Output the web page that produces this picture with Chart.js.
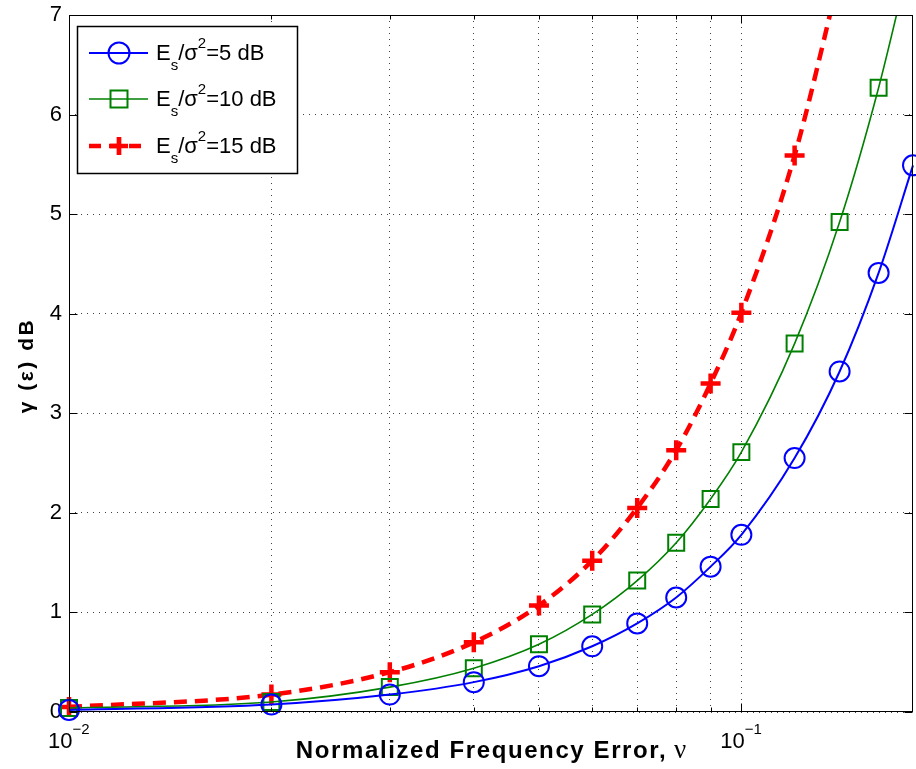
<!DOCTYPE html>
<html lang="en">
<head>
    <meta charset="UTF-8">
    <title>Frequency Error Penalty</title>
    <style>
        body {
            margin: 0;
            background-color: white;
        }
        #chart {
            display: block;
        }
    </style>
</head>
<body>
    <canvas id="chart" width="916" height="769"></canvas>

    <script src="https://cdn.jsdelivr.net/npm/chart.js"></script>
    <script>
        // normalized frequency error (x) and degradation in dB for each SNR
        const nu = [0.01, 0.02, 0.03, 0.04, 0.05, 0.06, 0.07, 0.08, 0.09, 0.1, 0.12, 0.14, 0.16, 0.18];
        const gamma5dB = [0.02, 0.075, 0.175, 0.30, 0.46, 0.66, 0.89, 1.15, 1.46, 1.78, 2.55, 3.42, 4.41, 5.49];
        const gamma10dB = [0.04, 0.10, 0.25, 0.44, 0.68, 0.98, 1.32, 1.70, 2.14, 2.61, 3.70, 4.92, 6.27, 7.7];
        const gamma15dB = [0.05, 0.175, 0.40, 0.70, 1.07, 1.52, 2.05, 2.63, 3.30, 4.01, 5.59, 7.4];

        const xGridTicks = [0.01, 0.02, 0.03, 0.04, 0.05, 0.06, 0.07, 0.08, 0.09, 0.1];
        const xDecades = [0.01, 0.1];
        const yTicks = [0, 1, 2, 3, 4, 5, 6, 7];

        const FONT = '"Liberation Sans", Arial, sans-serif';

        const series = [
            { label: '5', data: gamma5dB, color: '#0000ff', marker: 'circle' },
            { label: '10', data: gamma10dB, color: '#008000', marker: 'rect' },
            { label: '15', data: gamma15dB, color: '#ff0000', marker: 'cross' }
        ];

        const toPoints = vals => vals.map((v, i) => ({ x: nu[i], y: v }));

        // clip lines at the top of the axes but let edge markers overhang left/right
        const clipTop = { top: 0, left: false, right: false, bottom: false };

        const datasets = [
            {
                label: series[0].label,
                data: toPoints(gamma5dB),
                borderColor: '#0000ff',
                borderWidth: 2,
                pointStyle: 'circle',
                pointRadius: 10,
                pointBorderWidth: 2,
                pointBackgroundColor: 'rgba(0,0,0,0)',
                pointBorderColor: '#0000ff',
                cubicInterpolationMode: 'monotone',
                clip: clipTop
            },
            {
                label: series[1].label,
                data: toPoints(gamma10dB),
                borderColor: '#008000',
                borderWidth: 1.6,
                pointStyle: 'rect',
                pointRadius: 11.3,
                pointBorderWidth: 2,
                pointBackgroundColor: 'rgba(0,0,0,0)',
                pointBorderColor: '#008000',
                cubicInterpolationMode: 'monotone',
                clip: clipTop
            },
            {
                label: series[2].label,
                data: toPoints(gamma15dB),
                borderColor: '#ff0000',
                borderWidth: 4.5,
                borderDash: [13, 8],
                pointStyle: 'cross',
                pointRadius: 10,
                pointBorderWidth: 4.5,
                pointBorderColor: '#ff0000',
                cubicInterpolationMode: 'monotone',
                clip: clipTop
            }
        ];

        function drawMarker(ctx, style, x, y, color) {
            ctx.save();
            ctx.strokeStyle = color;
            ctx.setLineDash([]);
            ctx.beginPath();
            if (style === 'circle') {
                ctx.lineWidth = 2;
                ctx.arc(x, y, 10.5, 0, Math.PI * 2);
            } else if (style === 'rect') {
                ctx.lineWidth = 2;
                ctx.rect(x - 8.5, y - 8.5, 17, 17);
            } else {
                ctx.lineWidth = 4.7;
                ctx.moveTo(x - 9, y); ctx.lineTo(x + 9, y);
                ctx.moveTo(x, y - 9); ctx.lineTo(x, y + 9);
            }
            ctx.stroke();
            ctx.restore();
        }

        // "E_s/σ^2=NN dB" with sub/superscripts
        function drawLegendText(ctx, x, baseline, value) {
            const big = '22px ' + FONT;
            const small = '15px ' + FONT;
            const parts = [
                ['E', big, 0],
                ['s', small, 10],
                ['/σ', big, 0],
                ['2', small, -12],
                ['=' + value + ' dB', big, 0]
            ];
            ctx.fillStyle = '#000';
            ctx.textBaseline = 'alphabetic';
            ctx.textAlign = 'left';
            for (const [t, f, dy] of parts) {
                ctx.font = f;
                ctx.fillText(t, x, baseline + dy);
                x += ctx.measureText(t).width;
            }
        }

        const decorations = {
            id: 'decorations',
            afterDatasetsDraw(chart) {
                const { ctx, chartArea: a, scales: { x, y } } = chart;
                const L = Math.round(a.left) + 0.5;
                const R = Math.round(a.right) - 0.5;
                const T = Math.round(a.top) + 0.5;
                const B = Math.round(a.bottom) - 0.5;

                ctx.save();
                ctx.strokeStyle = '#000';
                ctx.lineWidth = 1;
                ctx.setLineDash([]);

                // axes box
                ctx.strokeRect(L, T, R - L, B - T);

                // inward tick marks
                ctx.beginPath();
                yTicks.forEach(v => {
                    const py = Math.round(y.getPixelForValue(v)) + 0.5;
                    ctx.moveTo(L, py); ctx.lineTo(L + 8, py);
                    ctx.moveTo(R, py); ctx.lineTo(R - 8, py);
                });
                xGridTicks.forEach(v => {
                    const px = Math.round(x.getPixelForValue(v)) + 0.5;
                    const len = xDecades.includes(v) ? 8 : 4;
                    ctx.moveTo(px, B); ctx.lineTo(px, B - len);
                    ctx.moveTo(px, T); ctx.lineTo(px, T + len);
                });
                ctx.stroke();

                // decade labels 10^-2, 10^-1
                ctx.fillStyle = '#000';
                ctx.textBaseline = 'alphabetic';
                ctx.textAlign = 'left';
                xDecades.forEach(v => {
                    const px = x.getPixelForValue(v);
                    const exp = Math.round(Math.log10(v));
                    ctx.font = '22px ' + FONT;
                    ctx.fillText('10', px - 21, 748);
                    const w = ctx.measureText('10').width;
                    ctx.font = '15px ' + FONT;
                    ctx.fillText('\u2212' + Math.abs(exp), px - 21 + w, 734);
                });

                // x axis title
                const cx = (a.left + a.right) / 2;
                ctx.font = 'bold 24px ' + FONT;
                ctx.letterSpacing = '1.6px';
                const main = 'Normalized Frequency Error,';
                const wMain = ctx.measureText(main).width;
                ctx.letterSpacing = '0px';
                ctx.font = '27px "Liberation Serif", serif';
                const wNu = ctx.measureText(' \u03bd').width;
                let tx = cx - (wMain + wNu) / 2;
                ctx.font = 'bold 24px ' + FONT;
                ctx.letterSpacing = '1.6px';
                ctx.fillText(main, tx, 758);
                ctx.letterSpacing = '0px';
                ctx.font = '27px "Liberation Serif", serif';
                ctx.fillText(' \u03bd', tx + wMain, 758);

                // y axis title
                ctx.save();
                ctx.translate(33, (a.top + a.bottom) / 2 + 2);
                ctx.rotate(-Math.PI / 2);
                ctx.textAlign = 'center';
                ctx.font = 'bold 21px ' + FONT;
                ctx.letterSpacing = '2.5px';
                ctx.fillText('\u03b3 (\u03b5) dB', 0, 0);
                ctx.restore();

                // legend
                ctx.fillStyle = '#fff';
                ctx.fillRect(77.5, 26.5, 220, 147);
                ctx.lineWidth = 1.5;
                ctx.strokeStyle = '#000';
                ctx.strokeRect(77.5, 26.5, 220, 147);
                const rows = [53, 99, 146];
                series.forEach((s, i) => {
                    const ly = rows[i];
                    ctx.save();
                    ctx.strokeStyle = s.color;
                    if (s.marker === 'cross') {
                        ctx.lineWidth = 4.5;
                        ctx.setLineDash([12, 8]);
                    } else {
                        ctx.lineWidth = s.marker === 'circle' ? 2 : 1.6;
                    }
                    ctx.beginPath();
                    ctx.moveTo(89, ly); ctx.lineTo(148, ly);
                    ctx.stroke();
                    ctx.restore();
                    drawMarker(ctx, s.marker, 119, ly, s.color);
                    drawLegendText(ctx, 156, ly + 6.5, s.label);
                });
                ctx.restore();
            }
        };

        const chart = new Chart(document.getElementById('chart'), {
            type: 'line',
            data: { datasets: datasets },
            options: {
                responsive: false,
                animation: false,
                devicePixelRatio: 1,
                layout: {
                    autoPadding: false,
                    padding: { left: 0, top: 15, right: 3, bottom: 0 }
                },
                scales: {
                    x: {
                        type: 'logarithmic',
                        min: 0.01,
                        max: 0.18,
                        afterBuildTicks: scale => {
                            scale.ticks = xGridTicks.map(v => ({ value: v }));
                        },
                        afterFit: scale => {
                            scale.height = 57;
                            scale.paddingLeft = 0;
                            scale.paddingRight = 0;
                        },
                        ticks: { display: false },
                        grid: { color: 'rgba(0,0,0,0.75)', lineWidth: 1, drawTicks: false },
                        border: { display: false, dash: [1, 5] }
                    },
                    y: {
                        min: 0,
                        max: 7,
                        afterBuildTicks: scale => {
                            scale.ticks = yTicks.map(v => ({ value: v }));
                        },
                        afterFit: scale => {
                            scale.width = 69;
                            scale.paddingTop = 0;
                            scale.paddingBottom = 0;
                        },
                        ticks: {
                            color: '#000',
                            padding: 7,
                            font: { family: FONT, size: 22 }
                        },
                        grid: { color: 'rgba(0,0,0,0.75)', lineWidth: 1, drawTicks: false },
                        border: { display: false, dash: [1, 5] }
                    }
                },
                plugins: {
                    legend: { display: false },
                    tooltip: { enabled: false }
                }
            },
            plugins: [decorations]
        });
    </script>
</body>
</html>
